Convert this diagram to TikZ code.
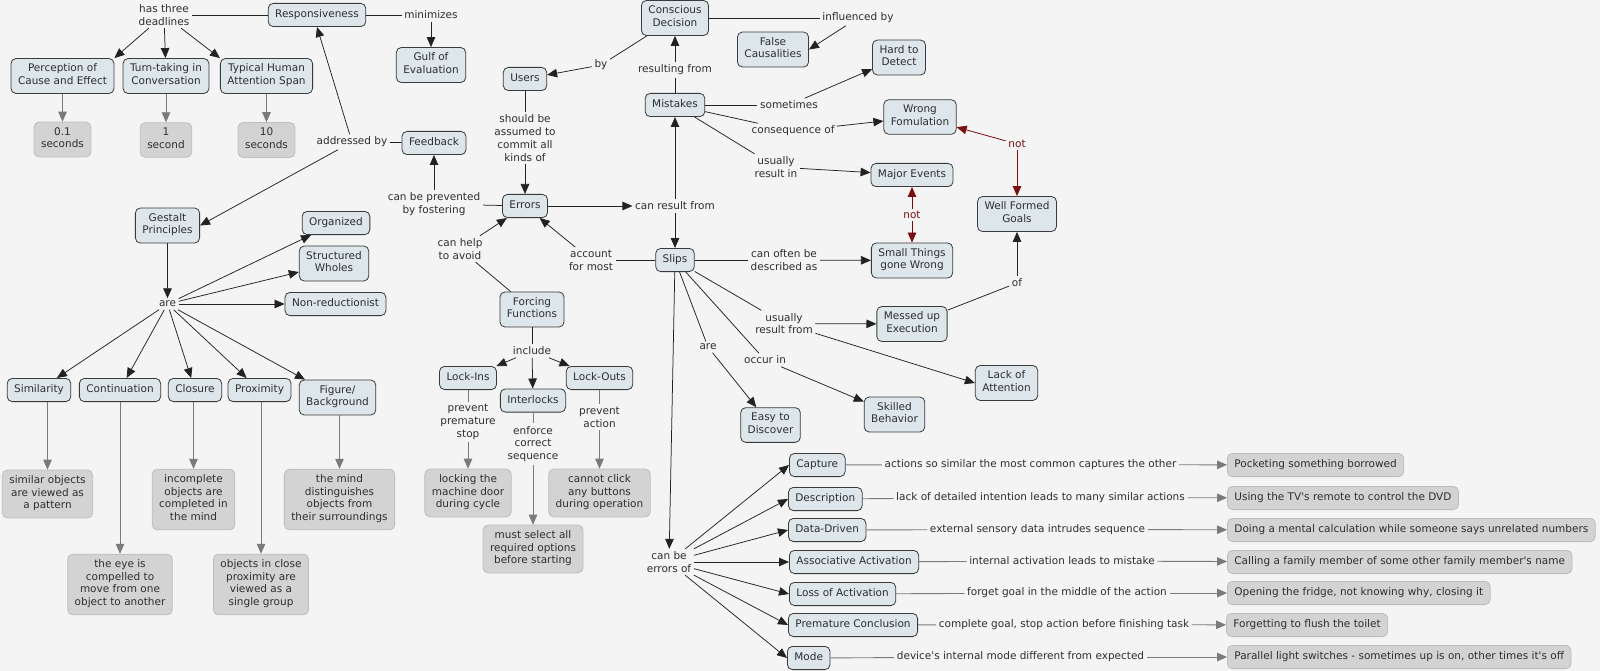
\documentclass[tikz,border=0pt]{standalone}
\usepackage{fontspec}
\setmainfont{DejaVu Sans}[Ligatures=TeXOff]
\usetikzlibrary{arrows.meta}
\definecolor{bg}{HTML}{F4F4F4}
\definecolor{cfill}{HTML}{DDE6EA}
\definecolor{cdraw}{HTML}{3A3A3A}
\definecolor{gfill}{HTML}{D3D3D3}
\definecolor{gdraw}{HTML}{BDBDBD}
\definecolor{txt}{HTML}{2E2E2E}
\definecolor{lnk}{HTML}{222222}
\definecolor{gline}{HTML}{7A7A7A}
\definecolor{rline}{HTML}{7A0E0E}
\tikzset{
 concept/.style={draw=cdraw, fill=cfill, rounded corners=5pt, line width=0.8pt, inner xsep=7pt, inner ysep=5.2pt, align=center, text=txt, execute at begin node=\strut, execute at end node=\strut},
 example/.style={concept, draw=gdraw, fill=gfill},
 lab/.style={inner sep=2.5pt, align=center, text=txt},
 rlab/.style={lab, text=rline},
 ln/.style={draw=lnk, line width=0.75pt},
 ar/.style={ln, -{Triangle[length=10pt,width=8.5pt]}},
 gln/.style={draw=gline, line width=0.9pt},
 gar/.style={gln, -{Triangle[length=10pt,width=8.5pt]}},
 rar/.style={draw=rline, line width=0.8pt, -{Triangle[length=10pt,width=8.5pt]}},
}
\begin{document}
\begin{tikzpicture}[x=1pt,y=-1pt,font=\fontsize{10.5}{12.8}\selectfont]
\fill[bg] (0,0) rectangle (1600,671);
\useasboundingbox (0,0) rectangle (1600,671);

% ---------- top left ----------
\node[concept] (resp) at (317,15) {Responsiveness};
\node[lab] (l_has) at (164,15) {has three\\deadlines};
\node[lab] (l_min) at (431,15) {minimizes};
\node[concept] (gulf) at (431,65) {Gulf of\\Evaluation};
\node[concept] (perc) at (62.5,76) {Perception of\\Cause and Effect};
\node[concept] (turn) at (166,76) {Turn-taking in\\Conversation};
\node[concept] (typ) at (266.5,76) {Typical Human\\Attention Span};
\node[example] (s01) at (62.5,139.5) {0.1\\seconds};
\node[example] (s1) at (166,140) {1\\second};
\node[example] (s10) at (266.5,140) {10\\seconds};
\node[lab] (l_addr) at (352,142) {addressed by};
\node[concept] (feed) at (434,143) {Feedback};
\node[lab] (l_prev) at (434,204) {can be prevented\\by fostering};

% ---------- centre top ----------
\node[concept] (errors) at (525,206) {Errors};
\node[concept] (users) at (525,79) {Users};
\node[lab] (l_should) at (525,138) {should be\\assumed to\\commit all\\kinds of};
\node[lab] (l_by) at (601,65) {by};
\node[concept] (cd) at (675,18) {Conscious\\Decision};
\node[lab] (l_infl) at (858,18) {influenced by};
\node[concept] (falsec) at (773,49.5) {False\\Causalities};
\node[concept] (hard) at (899,57.5) {Hard to\\Detect};
\node[concept] (mist) at (675,105) {Mistakes};
\node[lab] (l_resfrom) at (675,70) {resulting from};
\node[lab] (l_some) at (789,105) {sometimes};
\node[lab] (l_cons) at (793,131) {consequence of};
\node[concept] (wrong) at (920,117) {Wrong\\Fomulation};
\node[lab] (l_usin) at (776,167) {usually\\result in};
\node[concept] (major) at (912,175) {Major Events};
\node[rlab] (l_not1) at (912,215) {not};
\node[concept] (small) at (912,260.5) {Small Things\\gone Wrong};
\node[concept] (wfg) at (1017,214) {Well Formed\\Goals};
\node[rlab] (l_not2) at (1017,144) {not};
\node[lab] (l_of) at (1017,283) {of};
\node[concept] (messed) at (912,324) {Messed up\\Execution};
\node[concept] (slips) at (675,260) {Slips};
\node[lab] (l_canres) at (675,206) {can result from};
\node[lab] (l_desc) at (784,260) {can often be\\described as};
\node[lab] (l_acc) at (591,260) {account\\for most};
\node[lab] (l_help) at (460,249) {can help\\to avoid};

% ---------- forcing functions ----------
\node[concept] (ff) at (532,309.5) {Forcing\\Functions};
\node[lab] (l_incl) at (532,351) {include};
\node[concept] (lockin) at (468,378) {Lock-Ins};
\node[concept] (inter) at (533,400.5) {Interlocks};
\node[concept] (lockout) at (599.5,378) {Lock-Outs};
\node[lab] (l_pps) at (468,422) {prevent\\premature\\stop};
\node[example] (ex_lock) at (468,493) {locking the\\machine door\\during cycle};
\node[lab] (l_ecs) at (533,444) {enforce\\correct\\sequence};
\node[example] (ex_must) at (533,549) {must select all\\required options\\before starting};
\node[lab] (l_pa) at (599.5,417) {prevent\\action};
\node[example] (ex_click) at (599.5,493) {cannot click\\any buttons\\during operation};

% ---------- gestalt ----------
\node[concept] (gestalt) at (167.5,225.5) {Gestalt\\Principles};
\node[lab] (l_are) at (167.5,304) {are};
\node[concept] (org) at (336,223) {Organized};
\node[concept] (struct) at (334,263.5) {Structured\\Wholes};
\node[concept] (nonred) at (335.5,304) {Non-reductionist};
\node[concept] (sim) at (39,390) {Similarity};
\node[concept] (cont) at (120,390) {Continuation};
\node[concept] (clos) at (195,390) {Closure};
\node[concept] (prox) at (259.5,390) {Proximity};
\node[concept] (fig) at (337.5,397.5) {Figure/\\Background};
\node[example] (ex_sim) at (47.5,494) {similar objects\\are viewed as\\a pattern};
\node[example] (ex_eye) at (120,584.5) {the eye is\\compelled to\\move from one\\object to another};
\node[example] (ex_inc) at (193.5,499.5) {incomplete\\objects are\\completed in\\the mind};
\node[example] (ex_prox) at (261,584.5) {objects in close\\proximity are\\viewed as a\\single group};
\node[example] (ex_mind) at (339.5,499.5) {the mind\\distinguishes\\objects from\\their surroundings};

% ---------- slips lower ----------
\node[lab] (l_usfrom) at (784,323.5) {usually\\result from};
\node[concept] (lack) at (1006.5,383) {Lack of\\Attention};
\node[lab] (l_are2) at (708,347) {are};
\node[concept] (easy) at (770.5,425) {Easy to\\Discover};
\node[lab] (l_occ) at (765,360) {occur in};
\node[concept] (skilled) at (894.5,414.5) {Skilled\\Behavior};
\node[lab] (l_errof) at (669,562) {can be\\errors of};

\node[concept, anchor=west] (capture) at (789,465) {Capture};
\node[concept, anchor=west] (descr) at (788,499) {Description};
\node[concept, anchor=west] (datad) at (788,530) {Data-Driven};
\node[concept, anchor=west] (assoc) at (789,562) {Associative Activation};
\node[concept, anchor=west] (loss) at (789,594) {Loss of Activation};
\node[concept, anchor=west] (prem) at (788,625) {Premature Conclusion};
\node[concept, anchor=west] (mode) at (787,658) {Mode};

\node[lab] (d1) at (1030.5,464.5) {actions so similar the most common captures the other};
\node[lab] (d2) at (1040.5,497.5) {lack of detailed intention leads to many similar actions};
\node[lab] (d3) at (1037.5,529.5) {external sensory data intrudes sequence};
\node[lab] (d4) at (1062,561) {internal activation leads to mistake};
\node[lab] (d5) at (1067,593) {forget goal in the middle of the action};
\node[lab] (d6) at (1064,624.5) {complete goal, stop action before finishing task};
\node[lab] (d7) at (1020.5,657) {device's internal mode different from expected};

\node[example, anchor=west] (e1) at (1227,465) {Pocketing something borrowed};
\node[example, anchor=west] (e2) at (1227,498) {Using the TV's remote to control the DVD};
\node[example, anchor=west] (e3) at (1227,530) {Doing a mental calculation while someone says unrelated numbers};
\node[example, anchor=west] (e4) at (1227,562) {Calling a family member of some other family member's name};
\node[example, anchor=west] (e5) at (1227,593) {Opening the fridge, not knowing why, closing it};
\node[example, anchor=west] (e6) at (1226,625) {Forgetting to flush the toilet};
\node[example, anchor=west] (e7) at (1227,657) {Parallel light switches - sometimes up is on, other times it's off};

% ================= connectors =================
\draw[ln] (resp) -- (l_has);
\draw[ar] (l_has) -- (perc.north east);
\draw[ar] (l_has) -- (turn);
\draw[ar] (l_has) -- (typ.north west);
\draw[gar] (perc) -- (s01);
\draw[gar] (turn) -- (s1);
\draw[gar] (typ) -- (s10);
\draw[ln] (resp) -- (l_min);
\draw[ar] (l_min) -- (gulf);
\draw[ln] (feed) -- (l_addr);
\draw[ar] (l_addr) -- (resp.south);
\draw[ar] (l_addr) -- (gestalt.east);
\draw[ln] (errors) -- (l_prev);
\draw[ar] (l_prev) -- (feed);

\draw[ln] (users) -- (l_should);
\draw[ar] (l_should) -- (errors);
\draw[ln] (cd) -- (l_by);
\draw[ar] (l_by) -- (users);
\draw[ln] (mist) -- (l_resfrom);
\draw[ar] (l_resfrom) -- (cd);
\draw[ln] (cd) -- (l_infl);
\draw[ar] (l_infl) -- (falsec.east);
\draw[ln] (mist) -- (l_some);
\draw[ar] (l_some) -- (hard);
\draw[ln] (mist) -- (l_cons);
\draw[ar] (l_cons) -- (wrong);
\draw[ln] (mist) -- (l_usin);
\draw[ar] (l_usin) -- (major);
\draw[rar] (l_not1) -- (major);
\draw[rar] (l_not1) -- (small);
\draw[rar] (l_not2) -- (wrong);
\draw[rar] (l_not2) -- (wfg);
\draw[ln] (messed) -- (l_of);
\draw[ar] (l_of) -- (wfg);

\draw[ar] (errors) -- (l_canres);
\draw[ar] (l_canres) -- (mist);
\draw[ar] (l_canres) -- (slips);
\draw[ln] (slips) -- (l_desc);
\draw[ar] (l_desc) -- (small);
\draw[ln] (slips) -- (l_acc);
\draw[ar] (l_acc) -- (errors);
\draw[ln] (ff) -- (l_help);
\draw[ar] (l_help) -- (errors);

\draw[ln] (ff) -- (l_incl);
\draw[ar] (l_incl) -- (lockin);
\draw[ar] (l_incl) -- (inter);
\draw[ar] (l_incl) -- (lockout);
\draw[gln] (lockin) -- (l_pps);
\draw[gar] (l_pps) -- (ex_lock);
\draw[gln] (inter) -- (l_ecs);
\draw[gar] (l_ecs) -- (ex_must);
\draw[gln] (lockout) -- (l_pa);
\draw[gar] (l_pa) -- (ex_click);

\draw[ar] (gestalt) -- (l_are);
\draw[ar] (l_are) -- (org);
\draw[ar] (l_are) -- (struct);
\draw[ar] (l_are) -- (nonred);
\draw[ar] (l_are) -- (sim);
\draw[ar] (l_are) -- (cont);
\draw[ar] (l_are) -- (clos);
\draw[ar] (l_are) -- (prox);
\draw[ar] (l_are) -- (fig);
\draw[gar] (ex_sim.north |- sim.south) -- (ex_sim.north);
\draw[gar] (cont) -- (ex_eye);
\draw[gar] (ex_inc.north |- clos.south) -- (ex_inc.north);
\draw[gar] (ex_prox.north |- prox.south) -- (ex_prox.north);
\draw[gar] (ex_mind.north |- fig.south) -- (ex_mind.north);

\draw[ln] (slips) -- (l_usfrom);
\draw[ar] (l_usfrom) -- (messed);
\draw[ar] (l_usfrom) -- (lack.west);
\draw[ln] (slips) -- (l_are2);
\draw[ar] (l_are2) -- (easy);
\draw[ln] (slips) -- (l_occ);
\draw[ar] (l_occ) -- (skilled);
\draw[ar] (slips) -- (l_errof);
\foreach \t in {capture,descr,datad,assoc,loss,prem,mode}
  \draw[ar] (l_errof) -- (\t.west);

\draw[gln] (capture) -- (d1); \draw[gar] (d1) -- (e1);
\draw[gln] (descr) -- (d2);   \draw[gar] (d2) -- (e2);
\draw[gln] (datad) -- (d3);   \draw[gar] (d3) -- (e3);
\draw[gln] (assoc) -- (d4);   \draw[gar] (d4) -- (e4);
\draw[gln] (loss) -- (d5);    \draw[gar] (d5) -- (e5);
\draw[gln] (prem) -- (d6);    \draw[gar] (d6) -- (e6);
\draw[gln] (mode) -- (d7);    \draw[gar] (d7) -- (e7);
\end{tikzpicture}
\end{document}
